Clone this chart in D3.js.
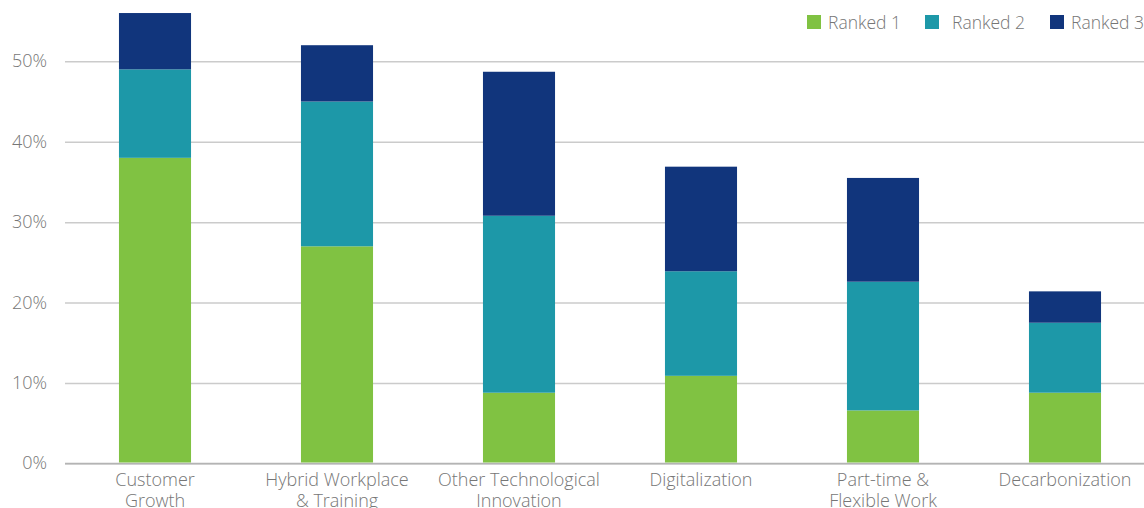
<!DOCTYPE html>
<html>
<head>
<meta charset="utf-8">
<script src="https://cdn.jsdelivr.net/npm/d3@7"></script>
<style>
  html, body { margin: 0; padding: 0; background: #fff; overflow: hidden; }
  svg { display: block; font-family: "Open Sans", sans-serif; font-weight: 300; }
</style>
</head>
<body>
<svg id="chart" width="1144" height="508"></svg>
<script>
// Priorities ranked by respondents, share per rank (%)
const categories = [
  ["Customer", "Growth"],
  ["Hybrid Workplace", "& Training"],
  ["Other Technological", "Innovation"],
  ["Digitalization"],
  ["Part-time &", "Flexible Work"],
  ["Decarbonization"]
];
const ranked1 = [38, 27, 8.8, 10.9, 6.6, 8.8];
const ranked2 = [11, 18, 22.0, 13.0, 16.0, 8.7];
const ranked3 = [7, 7, 17.9, 13.0, 12.9, 3.9];
const seriesNames = ["Ranked 1", "Ranked 2", "Ranked 3"];
const yTicks = [0, 10, 20, 30, 40, 50];

const colors = ["#80c242", "#1d98a8", "#11357c"];
const textColor = "#767676";
const fontFamily = '"Open Sans", sans-serif';

const svg = d3.select("#chart");
const plot = { left: 64, right: 1156, top: 14, bottom: 463.5 };

const keys = categories.map((c, i) => i);
const x = d3.scaleBand()
  .domain(keys)
  .range([plot.left, plot.right])
  .paddingInner(0.604)
  .paddingOuter(0.302);

const y = d3.scaleLinear()
  .domain([0, 50])
  .range([plot.bottom, 61.3]);

// Gridlines and y-axis labels
const yAxis = d3.axisLeft(y)
  .tickValues(yTicks)
  .tickSize(-(plot.right - plot.left))
  .tickPadding(18)
  .tickFormat(d => d + "%");

const gy = svg.append("g")
  .attr("transform", `translate(${plot.left + 1},0)`)
  .call(yAxis)
  .attr("font-family", fontFamily)
  .attr("font-weight", 300);
gy.select(".domain").remove();
gy.selectAll(".tick line")
  .attr("stroke", "#cbcbcb")
  .attr("stroke-width", 1.5);
gy.selectAll(".tick text")
  .attr("fill", textColor)
  .attr("font-size", 18)
  .attr("dy", "0.3em");

// Baseline
svg.append("line")
  .attr("x1", plot.left + 1).attr("x2", plot.right)
  .attr("y1", y(0)).attr("y2", y(0))
  .attr("stroke", "#b4b4b4")
  .attr("stroke-width", 1.5);

// Stacked bars
const rows = keys.map(i => ({ i, r1: ranked1[i], r2: ranked2[i], r3: ranked3[i] }));
const stack = d3.stack().keys(["r1", "r2", "r3"]);
const layers = stack(rows);

svg.append("g")
  .selectAll("g")
  .data(layers)
  .join("g")
  .attr("fill", (d, k) => colors[k])
  .selectAll("rect")
  .data(d => d)
  .join("rect")
  .attr("x", d => x(d.data.i))
  .attr("width", x.bandwidth())
  .attr("y", d => y(d[1]))
  .attr("height", d => y(d[0]) - y(d[1]) - (d[0] === 0 ? 1 : 0));

// Category labels
const xl = svg.append("g");
categories.forEach((lines, i) => {
  const cx = x(i) + x.bandwidth() / 2;
  const t = xl.append("text")
    .attr("x", cx)
    .attr("y", 486)
    .attr("text-anchor", "middle")
    .attr("fill", textColor)
    .attr("font-size", 18);
  lines.forEach((ln, j) => {
    t.append("tspan")
      .attr("x", cx)
      .attr("dy", j === 0 ? 0 : 21)
      .text(ln);
  });
});

// Legend
const legendX = [807, 925, 1050];
const legend = svg.append("g");
seriesNames.forEach((name, k) => {
  legend.append("rect")
    .attr("x", legendX[k]).attr("y", 15)
    .attr("width", 14).attr("height", 14)
    .attr("fill", colors[k]);
  legend.append("text")
    .attr("x", legendX[k] + (k === 1 ? 27 : 21))
    .attr("y", 29)
    .attr("fill", textColor)
    .attr("font-size", 17.5)
    .text(name);
});
</script>
</body>
</html>
